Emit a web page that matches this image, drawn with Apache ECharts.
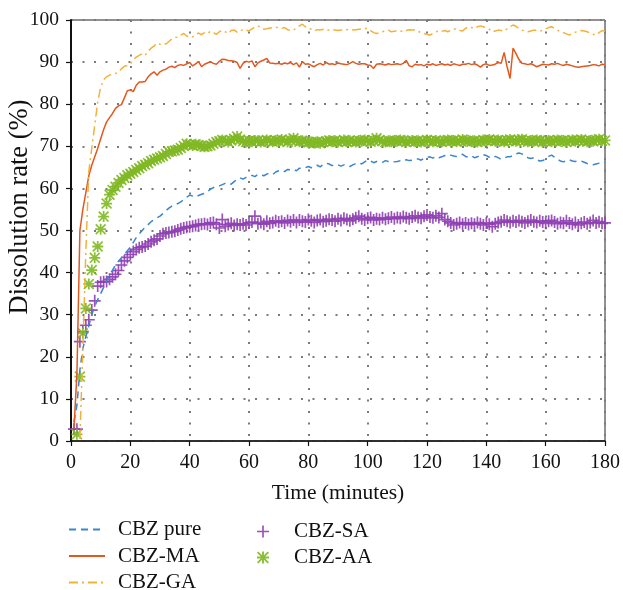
<!DOCTYPE html>
<html>
<head>
<meta charset="utf-8">
<script src="https://cdn.jsdelivr.net/npm/echarts@6/dist/echarts.min.js"></script>
<style>
  html, body { margin: 0; padding: 0; background: #fff; }
  #chart { width: 623px; height: 590px; }
</style>
</head>
<body>
<div id="chart"></div>
<script>
// Sampling times, minutes 1..180
const minutes = Array.from({ length: 180 }, (_, i) => i + 1);

const xTicks = [0, 20, 40, 60, 80, 100, 120, 140, 160, 180];
const yTicks = [0, 10, 20, 30, 40, 50, 60, 70, 80, 90, 100];

// Dissolution rate (%) per minute
const cbzPure = [
  4.5,8.5,16.9,22.0,24.8,27.3,30.0,32.0,33.6,35.0,
  36.5,38.0,39.5,40.6,41.8,42.7,43.5,44.3,45.2,46.0,
  47.2,48.3,49.2,50.0,50.8,51.4,52.1,52.6,53.0,53.4,
  54.0,54.7,55.3,55.8,56.1,56.4,56.8,57.3,57.9,58.4,
  58.2,58.0,58.3,58.6,58.8,59.3,59.8,60.2,60.5,60.6,
  60.9,61.2,61.3,61.0,61.6,62.2,62.5,62.2,62.6,62.9,
  63.1,62.8,63.3,63.2,63.0,63.4,63.6,63.3,63.9,64.2,
  64.3,64.0,64.5,64.4,64.5,64.2,64.8,64.7,64.9,65.2,
  64.9,65.3,65.5,65.1,65.7,66.0,65.8,65.4,65.7,65.6,
  65.3,65.6,65.4,65.2,65.6,65.9,66.1,65.8,66.3,66.7,
  66.5,66.1,66.4,66.3,66.2,66.6,66.4,66.5,66.3,66.4,
  66.6,66.5,66.8,66.6,66.7,66.9,67.0,66.7,67.2,67.4,
  67.5,67.2,67.6,67.3,67.5,67.8,67.6,67.9,67.7,67.6,
  67.9,68.1,67.6,67.4,67.7,67.3,67.5,67.9,68.0,67.8,
  67.4,67.2,67.6,67.3,66.9,67.2,67.5,67.5,67.8,68.2,
  68.4,68.2,67.6,67.3,67.1,67.3,66.8,66.5,66.6,67.0,
  67.6,67.9,67.4,66.9,66.5,66.3,66.6,66.8,66.5,66.4,
  66.6,66.5,66.2,65.9,65.7,65.6,65.8,66.0,66.3,66.2
];

const cbzMA = [
  3.0,16.0,50.0,55.0,59.0,63.0,65.5,67.5,69.5,71.8,
  74.0,75.8,76.8,77.8,79.0,79.6,79.9,81.5,83.2,83.4,
  83.0,84.5,85.3,85.3,85.4,86.5,87.2,87.7,86.9,87.7,
  88.1,88.3,88.8,89.0,88.7,89.2,89.4,89.2,89.6,89.9,
  89.1,89.6,90.1,88.9,89.5,89.8,90.1,89.7,89.5,90.2,
  90.7,90.6,90.4,90.3,90.2,89.9,88.5,89.7,90.2,90.0,
  90.3,88.9,89.8,90.2,90.5,90.9,89.8,89.7,89.6,89.7,
  89.5,89.8,89.6,89.9,89.4,89.8,88.8,90.1,89.5,89.6,
  89.2,88.9,89.4,89.7,89.3,89.9,89.5,89.6,89.4,89.8,
  89.6,89.5,89.4,89.7,90.1,89.7,89.5,89.6,89.6,89.3,
  89.2,88.5,89.5,89.6,89.5,89.3,89.6,89.4,89.5,89.6,
  89.4,89.7,90.4,89.1,88.9,89.5,89.3,89.4,89.1,89.5,
  89.3,89.6,89.2,89.4,89.6,89.3,89.5,89.2,89.6,89.4,
  89.2,89.5,89.5,89.7,89.4,89.6,89.3,88.8,89.4,89.6,
  89.2,89.3,89.5,89.9,89.7,92.3,88.9,86.1,93.3,92.0,
  90.6,89.7,89.6,89.4,89.6,89.3,88.9,89.2,89.5,89.4,
  89.3,89.6,89.5,89.7,89.4,89.2,89.5,89.3,89.1,88.9,
  88.8,88.9,89.0,89.1,89.2,89.4,89.3,89.1,89.5,89.4
];

const cbzGA = [
  null,null,0.5,22.0,45.0,64.0,69.5,75.0,80.5,84.0,
  85.8,86.5,86.9,87.1,87.3,87.6,88.4,89.0,89.2,89.6,
  90.5,91.2,91.6,92.0,91.6,92.6,93.3,93.8,94.5,94.2,
  94.5,94.3,94.9,95.5,95.8,95.9,96.4,96.8,96.2,95.9,
  96.0,96.6,96.9,96.5,97.0,96.8,97.3,97.0,96.6,97.2,
  97.5,97.2,96.8,97.5,97.6,97.1,97.3,97.8,97.6,97.4,
  97.9,98.3,98.6,98.2,97.8,97.9,98.1,98.2,98.3,98.1,
  98.0,98.2,97.7,97.5,97.6,98.1,98.6,99.0,98.4,98.0,
  97.8,97.4,97.7,97.6,97.8,97.5,97.6,97.7,97.6,97.5,
  97.6,97.8,97.7,97.6,97.6,97.7,97.8,97.9,98.0,98.0,
  97.5,97.0,96.8,97.0,97.2,97.4,97.6,97.2,97.3,97.5,
  97.4,97.2,97.5,97.7,97.6,97.7,97.3,97.0,96.8,96.6,
  96.4,96.8,97.2,97.4,97.3,97.5,97.2,97.6,97.8,97.9,
  97.5,97.4,98.0,98.4,98.2,98.0,98.4,98.6,98.4,98.1,
  97.8,97.2,97.4,97.6,97.5,97.3,97.9,98.4,98.8,98.5,
  98.0,97.6,97.4,97.2,97.4,97.6,97.5,97.3,97.6,97.9,
  98.2,98.4,98.0,97.6,97.2,97.0,96.7,96.4,96.8,97.1,
  97.3,97.5,97.4,97.2,96.9,96.6,96.4,97.0,97.5,97.3
];

const cbzSA = [
  2.8,2.8,23.6,26.0,27.5,28.8,31.1,33.3,36.8,37.7,
  37.8,37.9,38.4,39.0,39.6,40.5,41.8,42.8,43.6,44.3,
  45.0,45.5,45.9,46.1,46.3,46.8,47.3,47.7,48.0,48.7,
  49.2,49.4,49.5,49.7,49.8,50.1,50.4,50.6,50.8,50.9,
  51.0,51.2,51.4,51.5,51.6,51.4,51.8,51.9,51.5,50.6,
  52.6,51.0,51.4,51.7,51.2,51.5,51.3,51.6,51.3,51.8,
  52.0,53.4,51.6,51.9,51.5,52.2,51.7,51.9,52.3,52.0,
  52.2,51.8,52.4,52.1,52.5,51.9,52.5,52.2,52.0,52.6,
  52.3,51.9,52.4,52.6,52.1,52.3,52.7,52.5,52.2,52.8,
  52.4,52.9,52.6,52.3,52.7,53.0,53.4,52.8,52.5,52.9,
  53.1,52.5,52.8,52.6,53.0,52.7,52.9,53.2,52.8,53.1,
  52.9,53.3,53.0,52.8,53.2,53.5,53.1,52.9,53.4,53.7,
  53.2,53.0,53.5,53.1,54.0,52.6,52.2,51.8,51.3,51.6,
  51.9,51.5,51.8,51.4,51.7,51.5,51.9,51.6,51.3,51.8,
  51.5,50.9,51.6,51.9,52.1,52.5,52.2,51.9,52.3,52.0,
  52.4,52.1,51.8,52.2,52.5,52.1,51.9,52.3,52.0,51.7,
  52.2,52.4,52.0,51.6,51.9,51.7,52.3,51.8,51.5,51.9,
  51.3,51.7,52.0,51.6,51.9,52.4,51.8,52.1,51.7,51.8
];

const cbzAA = [
  null,1.6,15.3,25.6,31.5,37.3,40.6,43.5,46.2,50.3,
  53.3,56.4,58.5,59.6,60.4,61.3,62.0,62.5,63.1,63.5,
  63.9,64.4,64.8,65.3,65.6,66.0,66.5,66.8,67.1,67.4,
  67.7,68.2,68.7,68.8,69.0,69.2,69.6,70.1,70.6,70.4,
  70.2,70.5,70.3,70.1,69.9,70.0,70.2,70.6,71.0,71.2,
  71.5,71.3,71.0,71.4,71.8,72.3,71.6,71.2,71.0,71.3,
  71.1,71.4,71.3,71.0,71.2,71.5,71.3,71.1,71.4,71.2,
  71.6,71.3,71.0,71.5,71.9,71.4,71.1,71.3,71.2,70.9,
  71.0,70.8,71.1,70.7,71.0,71.2,71.4,71.1,71.3,71.0,
  71.2,71.5,71.1,71.3,71.2,71.0,71.4,71.2,71.5,71.3,
  71.1,71.4,71.9,71.5,71.2,71.0,71.3,71.1,71.4,71.2,
  71.5,71.3,71.0,71.2,71.4,71.1,71.3,71.0,71.2,71.5,
  71.3,71.1,71.4,71.2,71.0,71.3,71.5,71.2,71.4,71.1,
  71.3,71.6,71.2,71.4,71.1,71.3,71.0,71.2,71.5,71.3,
  71.6,71.4,71.2,71.5,71.3,71.1,71.4,71.6,71.3,71.2,
  71.5,71.7,71.3,71.1,71.4,71.2,71.5,71.3,71.0,71.2,
  71.4,71.1,71.3,71.5,71.2,71.4,71.0,71.3,71.5,71.2,
  71.4,71.6,71.3,71.1,71.4,71.2,71.5,71.7,71.3,71.4
];

const FONT = '"Liberation Serif", "DejaVu Serif", serif';

// Marker outlines (filled paths)
const plusPath = 'path://M4.3,0H5.7V4.3H10V5.7H5.7V10H4.3V5.7H0V4.3H4.3Z';
const starPath = 'path://M0,4.2H10V5.8H0Z M4.2,0H5.8V10H4.2Z ' +
                 'M1.1,0L10,8.9L8.9,10L0,1.1Z M10,1.1L1.1,10L0,8.9L8.9,0Z';

function pairs(values) {
  const out = [];
  values.forEach((v, i) => { if (v !== null) out.push([minutes[i], v]); });
  return out;
}

const chart = echarts.init(document.getElementById('chart'), null, { renderer: 'canvas' });

const dotted = { color: '#7a7a7a', width: 2, type: [2, 9.5] };

const legendText = { fontFamily: FONT, fontSize: 21, color: '#111', padding: [0, 0, 0, 8] };

chart.setOption({
  animation: false,
  backgroundColor: '#fff',
  textStyle: { fontFamily: FONT },
  grid: {
    left: 71, right: 18, top: 20, bottom: 149,
    containLabel: false, outerBoundsMode: 'none',
    show: true, borderColor: '#222', borderWidth: 1, backgroundColor: 'transparent'
  },
  legend: [
    {
      orient: 'vertical', left: 68, top: 519, height: 75, padding: 0,
      itemWidth: 36, itemHeight: 12, itemGap: 5.5,
      itemStyle: { opacity: 0 },
      textStyle: legendText,
      data: ['CBZ pure', 'CBZ-MA', 'CBZ-GA']
    },
    {
      orient: 'vertical', left: 257, top: 521, height: 60, padding: 0,
      itemWidth: 36, itemHeight: 12, itemGap: 5,
      textStyle: legendText,
      data: ['CBZ-SA', 'CBZ-AA']
    }
  ],
  graphic: [{
    type: 'text',
    x: 20, y: 207, rotation: Math.PI / 2,
    style: {
      text: 'Dissolution rate (%)',
      font: '26.5px ' + FONT, fill: '#111',
      align: 'center', verticalAlign: 'middle'
    }
  }],
  xAxis: {
    type: 'value', min: xTicks[0], max: xTicks[xTicks.length - 1], interval: 20,
    name: 'Time (minutes)', nameLocation: 'middle', nameGap: 41,
    nameTextStyle: { fontFamily: FONT, fontSize: 21.5, color: '#111' },
    axisLine: { show: true, lineStyle: { color: '#111', width: 1.5 } },
    axisTick: { show: true, inside: false, length: 5, lineStyle: { color: '#111', width: 1.2 } },
    axisLabel: { fontFamily: FONT, fontSize: 20, color: '#111', margin: 12 },
    splitLine: { show: true, lineStyle: dotted }
  },
  yAxis: {
    type: 'value', min: yTicks[0], max: yTicks[yTicks.length - 1], interval: 10,
    axisLine: { show: true, lineStyle: { color: '#111', width: 2 } },
    axisTick: { show: true, inside: false, length: 5, lineStyle: { color: '#111', width: 1.2 } },
    axisLabel: { fontFamily: FONT, fontSize: 19.5, color: '#111', margin: 12 },
    splitLine: { show: true, lineStyle: dotted }
  },
  series: [
    {
      name: 'CBZ pure', type: 'line', data: pairs(cbzPure),
      symbol: 'none', color: '#3a86cc',
      lineStyle: { color: '#3a86cc', width: 1.5, type: [7, 5] }
    },
    {
      name: 'CBZ-MA', type: 'line', data: pairs(cbzMA),
      symbol: 'none', color: '#e2581f',
      lineStyle: { color: '#e2581f', width: 1.5 }
    },
    {
      name: 'CBZ-GA', type: 'line', data: pairs(cbzGA),
      symbol: 'none', color: '#f2b23a',
      lineStyle: { color: '#f2b23a', width: 1.5, type: [9, 4, 2, 4] }
    },
    {
      name: 'CBZ-SA', type: 'scatter', data: pairs(cbzSA),
      symbol: plusPath, symbolSize: 12, color: '#8e3fb3',
      itemStyle: { color: '#8e3fb3', opacity: 0.9 }
    },
    {
      name: 'CBZ-AA', type: 'scatter', data: pairs(cbzAA),
      symbol: starPath, symbolSize: 11, color: '#7fb824',
      itemStyle: { color: '#7fb824', opacity: 0.9 }
    }
  ]
});
</script>
</body>
</html>
